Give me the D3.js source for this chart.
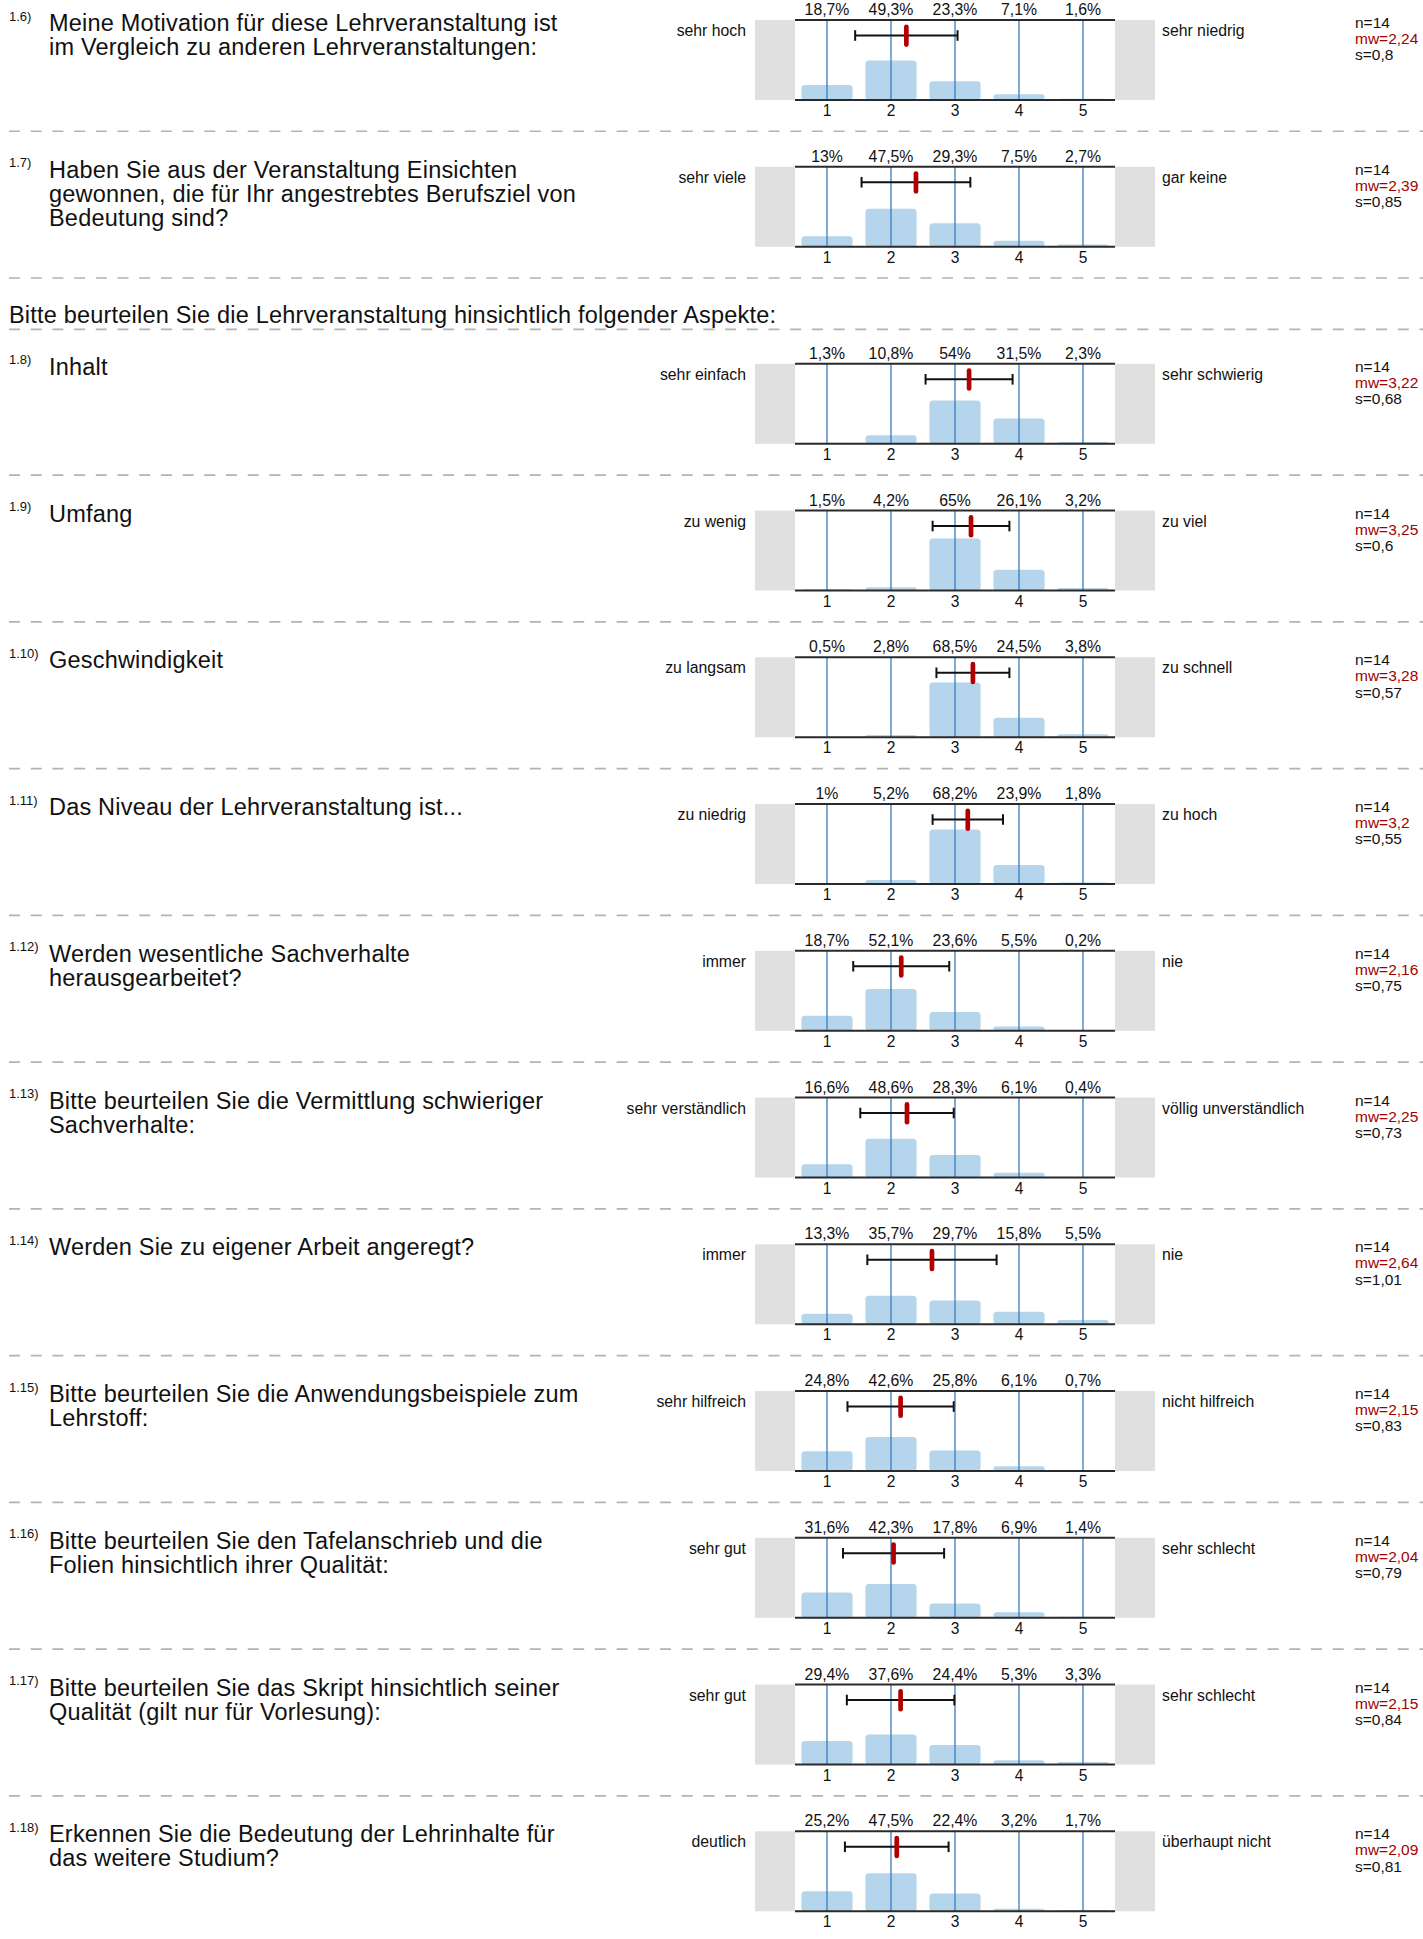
<!DOCTYPE html>
<html>
<head>
<meta charset="utf-8">
<script src="https://cdn.jsdelivr.net/npm/d3@7"></script>
<style>
  html, body { margin: 0; padding: 0; background: #fff; }
  svg { display: block; }
  text { font-family: "Liberation Sans", Arial, Helvetica, sans-serif; fill: #111; }
</style>
</head>
<body>
<script>
// ---------------- data ----------------
const questionIds = ["1.6)", "1.7)", "1.8)", "1.9)", "1.10)", "1.11)", "1.12)", "1.13)", "1.14)", "1.15)", "1.16)", "1.17)", "1.18)"];
const questionTexts = [
  ["Meine Motivation für diese Lehrveranstaltung ist", "im Vergleich zu anderen Lehrveranstaltungen:"],
  ["Haben Sie aus der Veranstaltung Einsichten", "gewonnen, die für Ihr angestrebtes Berufsziel von", "Bedeutung sind?"],
  ["Inhalt"],
  ["Umfang"],
  ["Geschwindigkeit"],
  ["Das Niveau der Lehrveranstaltung ist..."],
  ["Werden wesentliche Sachverhalte", "herausgearbeitet?"],
  ["Bitte beurteilen Sie die Vermittlung schwieriger", "Sachverhalte:"],
  ["Werden Sie zu eigener Arbeit angeregt?"],
  ["Bitte beurteilen Sie die Anwendungsbeispiele zum", "Lehrstoff:"],
  ["Bitte beurteilen Sie den Tafelanschrieb und die", "Folien hinsichtlich ihrer Qualität:"],
  ["Bitte beurteilen Sie das Skript hinsichtlich seiner", "Qualität (gilt nur für Vorlesung):"],
  ["Erkennen Sie die Bedeutung der Lehrinhalte für", "das weitere Studium?"]
];
const leftLabels = ["sehr hoch", "sehr viele", "sehr einfach", "zu wenig", "zu langsam", "zu niedrig", "immer", "sehr verständlich", "immer", "sehr hilfreich", "sehr gut", "sehr gut", "deutlich"];
const rightLabels = ["sehr niedrig", "gar keine", "sehr schwierig", "zu viel", "zu schnell", "zu hoch", "nie", "völlig unverständlich", "nie", "nicht hilfreich", "sehr schlecht", "sehr schlecht", "überhaupt nicht"];
const percentages = [
  [18.7, 49.3, 23.3, 7.1, 1.6],
  [13, 47.5, 29.3, 7.5, 2.7],
  [1.3, 10.8, 54, 31.5, 2.3],
  [1.5, 4.2, 65, 26.1, 3.2],
  [0.5, 2.8, 68.5, 24.5, 3.8],
  [1, 5.2, 68.2, 23.9, 1.8],
  [18.7, 52.1, 23.6, 5.5, 0.2],
  [16.6, 48.6, 28.3, 6.1, 0.4],
  [13.3, 35.7, 29.7, 15.8, 5.5],
  [24.8, 42.6, 25.8, 6.1, 0.7],
  [31.6, 42.3, 17.8, 6.9, 1.4],
  [29.4, 37.6, 24.4, 5.3, 3.3],
  [25.2, 47.5, 22.4, 3.2, 1.7]
];
const counts = [14, 14, 14, 14, 14, 14, 14, 14, 14, 14, 14, 14, 14];
const means = [2.24, 2.39, 3.22, 3.25, 3.28, 3.2, 2.16, 2.25, 2.64, 2.15, 2.04, 2.15, 2.09];
const deviations = [0.8, 0.85, 0.68, 0.6, 0.57, 0.55, 0.75, 0.73, 1.01, 0.83, 0.79, 0.84, 0.81];
const tickLabels = ["1", "2", "3", "4", "5"];
const sectionHeader = "Bitte beurteilen Sie die Lehrveranstaltung hinsichtlich folgender Aspekte:";
const headerBeforeIndex = 2;

// ---------------- layout ----------------
const W = 1423, H = 1939;
const PITCH = 146.75, FIRST_TOP = 20, HEADER_EXTRA = 50.3;
const PLOT_H = 80;
const comma = v => String(v).replace(".", ",");

const svg = d3.select("body").append("svg").attr("width", W).attr("height", H);

const xBand = d3.scaleBand().domain(tickLabels).range([795, 1115]).paddingInner(0.2).paddingOuter(0.1);
const xLin = d3.scaleLinear().domain([0.5, 5.5]).range([795, 1115]);
const y = d3.scaleLinear().domain([0, 100]).range([PLOT_H, 0]);

function itemTop(i) {
  return FIRST_TOP + i * PITCH + (i >= headerBeforeIndex ? HEADER_EXTRA : 0);
}

function dashed(yPos) {
  svg.append("line")
    .attr("x1", 9).attr("x2", W).attr("y1", yPos).attr("y2", yPos)
    .attr("stroke", "#b3b3b3").attr("stroke-width", 1.6)
    .attr("stroke-dasharray", "11,10.7");
}

// section header
const hdrTop = itemTop(headerBeforeIndex);
svg.append("text").attr("x", 9).attr("y", hdrTop - 40.4)
  .attr("font-size", 23.5).attr("letter-spacing", 0.2).text(sectionHeader);
dashed(hdrTop - 34.4);

questionIds.forEach((qid, i) => {
  const T = itemTop(i);
  const g = svg.append("g").attr("transform", `translate(0,${T})`);

  // question number + text
  g.append("text").attr("x", 9).attr("y", 0.5).attr("font-size", 13).text(qid);
  const qt = g.append("text").attr("x", 49).attr("y", 11).attr("font-size", 23.5).attr("letter-spacing", 0.2);
  questionTexts[i].forEach((line, k) => {
    qt.append("tspan").attr("x", 49).attr("y", 11 + k * 24).text(line);
  });

  // gray side boxes
  g.append("rect").attr("x", 755).attr("y", 0).attr("width", 40).attr("height", PLOT_H).attr("fill", "#e0e0e0");
  g.append("rect").attr("x", 1115).attr("y", 0).attr("width", 40).attr("height", PLOT_H).attr("fill", "#e0e0e0");

  // bars
  g.selectAll("rect.bar").data(percentages[i]).enter().append("rect")
    .attr("class", "bar")
    .attr("x", (d, k) => xBand(tickLabels[k]))
    .attr("width", xBand.bandwidth())
    .attr("y", d => y(d))
    .attr("height", d => PLOT_H - y(d))
    .attr("rx", 3.5)
    .attr("fill", "#b5d5ec");

  // vertical grid lines
  g.selectAll("line.grid").data(tickLabels).enter().append("line")
    .attr("x1", d => xLin(+d)).attr("x2", d => xLin(+d))
    .attr("y1", 0).attr("y2", PLOT_H)
    .attr("stroke", "#3b7bbf").attr("stroke-width", 1.3);

  // top and bottom frame lines
  g.append("line").attr("x1", 795).attr("x2", 1115).attr("y1", 0).attr("y2", 0).attr("stroke", "#2a2a2a").attr("stroke-width", 2);
  g.append("line").attr("x1", 795).attr("x2", 1115).attr("y1", PLOT_H).attr("y2", PLOT_H).attr("stroke", "#2a2a2a").attr("stroke-width", 2);

  // percentage labels
  g.selectAll("text.pct").data(percentages[i]).enter().append("text")
    .attr("x", (d, k) => xLin(k + 1)).attr("y", -5)
    .attr("text-anchor", "middle").attr("font-size", 15.8)
    .text(d => comma(d) + "%");

  // category axis
  const ax = g.append("g").attr("transform", `translate(0,${PLOT_H})`)
    .call(d3.axisBottom(xBand).tickSize(0).tickPadding(5));
  ax.select(".domain").remove();
  ax.selectAll("text").attr("font-size", 15.6).attr("font-family", null).attr("fill", "#111");

  // anchor labels
  g.append("text").attr("x", 746).attr("y", 16).attr("text-anchor", "end").attr("font-size", 15.8).text(leftLabels[i]);
  g.append("text").attr("x", 1162).attr("y", 16).attr("font-size", 15.8).text(rightLabels[i]);

  // std dev bar
  const m = means[i], s = deviations[i];
  const ey = 15.5;
  g.append("line").attr("x1", xLin(m - s)).attr("x2", xLin(m + s)).attr("y1", ey).attr("y2", ey)
    .attr("stroke", "#111").attr("stroke-width", 2);
  [m - s, m + s].forEach(v => {
    g.append("line").attr("x1", xLin(v)).attr("x2", xLin(v)).attr("y1", ey - 5.3).attr("y2", ey + 5.3)
      .attr("stroke", "#111").attr("stroke-width", 2);
  });
  // mean marker
  g.append("line").attr("x1", xLin(m)).attr("x2", xLin(m)).attr("y1", 6.8).attr("y2", 24.6)
    .attr("stroke", "#b20000").attr("stroke-width", 4.7).attr("stroke-linecap", "round");

  // stats
  g.append("text").attr("x", 1355).attr("y", 8).attr("font-size", 15.5).text("n=" + counts[i]);
  g.append("text").attr("x", 1355).attr("y", 24.2).attr("font-size", 15.5).style("fill", "#a30000").text("mw=" + comma(m));
  g.append("text").attr("x", 1355).attr("y", 40.4).attr("font-size", 15.5).text("s=" + comma(s));

  // separator
  dashed(T + 111.3);
});
</script>
</body>
</html>
